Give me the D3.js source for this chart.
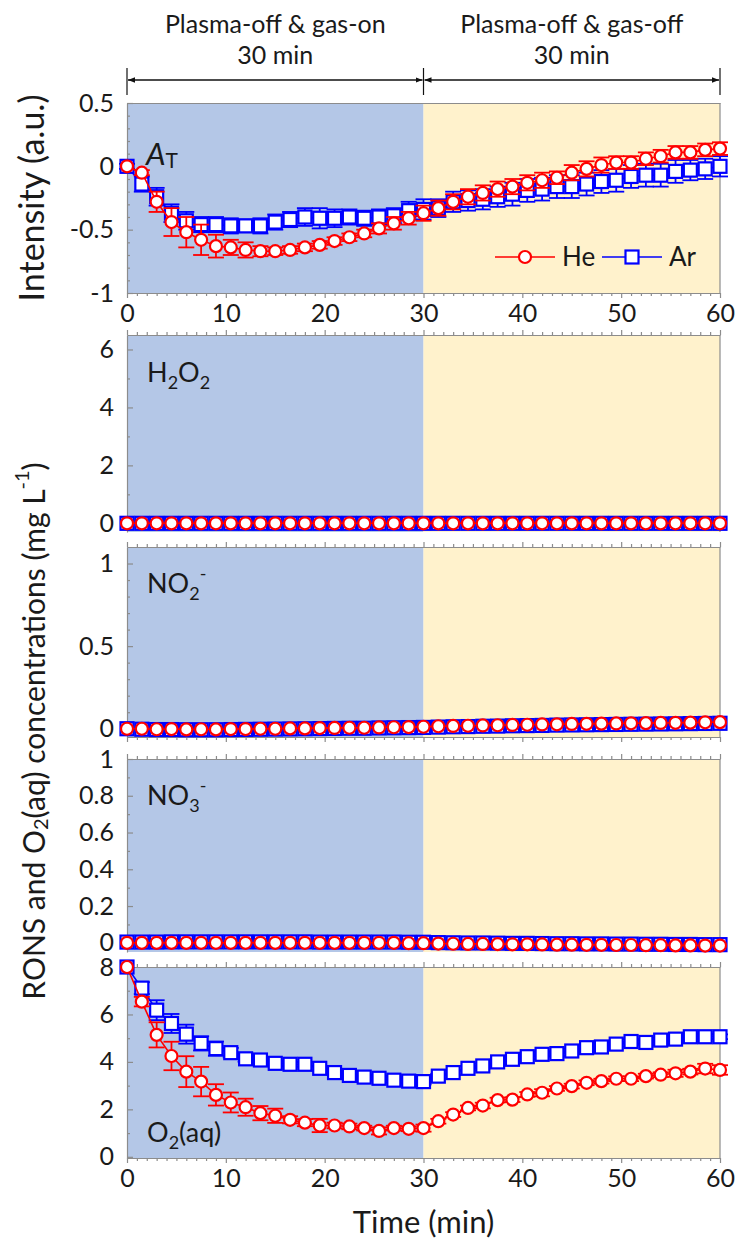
<!DOCTYPE html>
<html>
<head>
<meta charset="utf-8">
<script src="https://cdn.jsdelivr.net/npm/d3@7"></script>
<style>
  body { margin: 0; background: #fff; }
  svg { display: block; }
  text { font-family: Lato, "Open Sans", sans-serif; fill: #1a1a1a; }
</style>
</head>
<body>
<svg id="chart" width="736" height="1241"></svg>
<script>
// Sampling times (min)
const time = [0, 1.5, 3, 4.5, 6, 7.5, 9, 10.5, 12, 13.5, 15, 16.5, 18, 19.5, 21, 22.5, 24, 25.5, 27, 28.5, 30,
  31.5, 33, 34.5, 36, 37.5, 39, 40.5, 42, 43.5, 45, 46.5, 48, 49.5, 51, 52.5, 54, 55.5, 57, 58.5, 60];

// Total absorbance A_T (a.u.)
const atHe = [0, -0.05, -0.28, -0.44, -0.52, -0.58, -0.63, -0.64, -0.66, -0.67, -0.67, -0.66, -0.64, -0.62, -0.59, -0.56, -0.53, -0.49, -0.45, -0.41, -0.37,
  -0.33, -0.28, -0.24, -0.21, -0.18, -0.16, -0.13, -0.11, -0.09, -0.05, -0.02, 0.01, 0.03, 0.03, 0.06, 0.08, 0.11, 0.11, 0.13, 0.14];
const atHeErr = [0, 0.02, 0.08, 0.11, 0.12, 0.12, 0.09, 0.06, 0.06, 0.04, 0.03, 0.03, 0.03, 0.03, 0.03, 0.03, 0.03, 0.04, 0.05, 0.05, 0.06,
  0.06, 0.06, 0.06, 0.06, 0.06, 0.06, 0.06, 0.06, 0.05, 0.06, 0.06, 0.06, 0.05, 0.05, 0.05, 0.05, 0.05, 0.05, 0.05, 0.05];
const atAr = [0, -0.14, -0.24, -0.37, -0.43, -0.46, -0.46, -0.47, -0.47, -0.47, -0.44, -0.42, -0.40, -0.41, -0.41, -0.40, -0.41, -0.40, -0.39, -0.35, -0.34,
  -0.33, -0.28, -0.27, -0.26, -0.24, -0.22, -0.19, -0.18, -0.16, -0.16, -0.14, -0.12, -0.11, -0.08, -0.07, -0.07, -0.04, -0.03, -0.02, 0.00];
const atArErr = [0.02, 0.06, 0.07, 0.07, 0.07, 0.06, 0.06, 0.06, 0.05, 0.06, 0.06, 0.06, 0.07, 0.08, 0.07, 0.06, 0.06, 0.06, 0.06, 0.07, 0.08,
  0.07, 0.08, 0.08, 0.08, 0.08, 0.09, 0.09, 0.09, 0.09, 0.09, 0.09, 0.09, 0.09, 0.09, 0.09, 0.09, 0.09, 0.08, 0.08, 0.08];

// H2O2 (mg/L)
const h2o2He = [0, 0, 0, 0, 0, 0, 0, 0, 0, 0, 0, 0, 0, 0, 0, 0, 0, 0, 0, 0, 0,
  0, 0, 0, 0, 0, 0, 0, 0, 0, 0, 0, 0, 0, 0, 0, 0, 0, 0, 0, 0];
const h2o2Ar = [0, 0, 0, 0, 0, 0, 0, 0, 0, 0, 0, 0, 0, 0, 0, 0, 0, 0, 0, 0, 0,
  0, 0, 0, 0, 0, 0, 0, 0, 0, 0, 0, 0, 0, 0, 0, 0, 0, 0, 0, 0];

// NO2- (mg/L)
const no2He = [0.000, 0.000, -0.003, -0.002, -0.004, -0.003, -0.004, -0.002, -0.002, 0.000, 0.000, 0.002, 0.002, 0.004, 0.005, 0.006, 0.006, 0.008, 0.009, 0.010, 0.012,
  0.015, 0.017, 0.018, 0.020, 0.021, 0.023, 0.024, 0.026, 0.027, 0.029, 0.030, 0.031, 0.032, 0.033, 0.034, 0.035, 0.036, 0.037, 0.039, 0.040];
const no2Ar = [0.000, -0.003, -0.005, -0.005, -0.006, -0.006, -0.006, -0.005, -0.004, -0.003, -0.002, -0.001, 0.000, 0.001, 0.002, 0.003, 0.003, 0.005, 0.006, 0.007, 0.008,
  0.010, 0.012, 0.013, 0.015, 0.016, 0.018, 0.019, 0.020, 0.022, 0.023, 0.024, 0.025, 0.026, 0.027, 0.028, 0.029, 0.030, 0.031, 0.032, 0.033];

// NO3- (mg/L)
const no3He = [0.000, 0.000, 0.000, 0.000, 0.000, 0.000, 0.000, 0.000, 0.000, 0.000, 0.000, 0.000, 0.000, 0.000, 0.000, 0.000, 0.000, 0.000, 0.000, -0.002, -0.002,
  -0.004, -0.005, -0.006, -0.006, -0.007, -0.008, -0.008, -0.009, -0.010, -0.010, -0.011, -0.011, -0.012, -0.012, -0.013, -0.013, -0.014, -0.014, -0.015, -0.015];
const no3Ar = [0.004, 0.004, 0.004, 0.005, 0.005, 0.005, 0.005, 0.005, 0.005, 0.005, 0.005, 0.005, 0.005, 0.004, 0.004, 0.004, 0.004, 0.004, 0.004, 0.003, 0.003,
  0.001, 0.000, -0.001, -0.001, -0.002, -0.003, -0.003, -0.004, -0.005, -0.005, -0.006, -0.006, -0.007, -0.007, -0.008, -0.008, -0.009, -0.009, -0.010, -0.010];

// Dissolved O2 (mg/L)
const o2He = [8, 6.54, 5.14, 4.25, 3.59, 3.17, 2.61, 2.29, 2.09, 1.84, 1.73, 1.56, 1.44, 1.32, 1.32, 1.28, 1.21, 1.09, 1.21, 1.18, 1.21,
  1.50, 1.78, 2.06, 2.16, 2.39, 2.41, 2.63, 2.70, 2.88, 2.98, 3.12, 3.19, 3.29, 3.29, 3.40, 3.46, 3.52, 3.59, 3.72, 3.66];
const o2HeErr = [0, 0.2, 0.53, 0.6, 0.65, 0.62, 0.45, 0.42, 0.36, 0.3, 0.3, 0.15, 0.15, 0.28, 0.12, 0.12, 0.1, 0.15, 0.1, 0.1, 0.15,
  0.1, 0.1, 0.1, 0.12, 0.1, 0.1, 0.1, 0.15, 0.1, 0.1, 0.1, 0.1, 0.1, 0.1, 0.1, 0.1, 0.15, 0.12, 0.2, 0.2];
const o2Ar = [8, 7.11, 6.18, 5.62, 5.17, 4.78, 4.56, 4.39, 4.13, 4.08, 3.94, 3.90, 3.90, 3.73, 3.55, 3.43, 3.36, 3.31, 3.23, 3.19, 3.17,
  3.40, 3.55, 3.73, 3.83, 4.00, 4.11, 4.22, 4.32, 4.35, 4.46, 4.60, 4.63, 4.75, 4.86, 4.82, 4.92, 4.96, 5.06, 5.06, 5.06];
const o2ArErr = [0, 0.25, 0.42, 0.4, 0.4, 0.3, 0.3, 0.2, 0.12, 0.1, 0.1, 0.1, 0.1, 0.1, 0.1, 0.1, 0.1, 0.1, 0.1, 0.1, 0.12,
  0.1, 0.1, 0.1, 0.1, 0.1, 0.1, 0.1, 0.1, 0.1, 0.1, 0.1, 0.1, 0.1, 0.1, 0.1, 0.1, 0.1, 0.1, 0.1, 0.1];

// Axis ticks
const xTicks = [0, 10, 20, 30, 40, 50, 60];
const atTicks = [-1, -0.5, 0, 0.5];
const h2o2Ticks = [0, 2, 4, 6];
const no2Ticks = [0, 0.5, 1];
const no3Ticks = [0, 0.2, 0.4, 0.6, 0.8, 1];
const o2Ticks = [0, 2, 4, 6, 8];

// Phases and series names
const phases = [
  { from: 0, to: 30, title: "Plasma-off & gas-on", sub: "30 min" },
  { from: 30, to: 60, title: "Plasma-off & gas-off", sub: "30 min" }
];
const seriesNames = ["He", "Ar"];

// ---------- layout & style ----------
const svg = d3.select("#chart");
const X0 = 127, X1 = 720;
const AXIS = "#8c8c8c";
const RED = "#ff0000", BLUE = "#0000ff";
const phaseFill = ["#b4c7e7", "#fff2cc"];
const TICK_FONT = 25;

const x = d3.scaleLinear().domain([0, 60]).range([X0, X1]);
const minorX = d3.range(0, 61, 1);

const panels = [
  { top: 103, bottom: 293, domain: [-1, 0.5], ticks: atTicks, minor: d3.range(-10, 6).map(d => d / 10),
    he: atHe, ar: atAr, heErr: atHeErr, arErr: atArErr, topTicks: false, bottomAxis: "labels" },
  { top: 335, bottom: 532, domain: [-0.3, 6.5], ticks: h2o2Ticks, minor: d3.range(0, 7),
    he: h2o2He, ar: h2o2Ar, topTicks: true, bottomAxis: "none" },
  { top: 547, bottom: 737, domain: [-0.05, 1.1], ticks: no2Ticks, minor: d3.range(0, 11).map(d => d / 10),
    he: no2He, ar: no2Ar, topTicks: true, bottomAxis: "ticks" },
  { top: 759, bottom: 952, domain: [-0.05, 1], ticks: no3Ticks, minor: d3.range(0, 11).map(d => d / 10),
    he: no3He, ar: no3Ar, topTicks: true, bottomAxis: "none" },
  { top: 967, bottom: 1158, domain: [-0.05, 8], ticks: o2Ticks, minor: d3.range(0, 9),
    he: o2He, ar: o2Ar, heErr: o2HeErr, arErr: o2ArErr, topTicks: true, bottomAxis: "labels" }
];

const fmt = d => String(d);

function styleAxis(g) {
  g.select(".domain").attr("stroke", AXIS).attr("stroke-width", 1.2);
  g.selectAll(".tick line").attr("stroke", AXIS).attr("stroke-width", 1.2);
  g.selectAll(".tick text").attr("fill", "#1a1a1a")
    .style("font-family", "Lato, 'Open Sans', sans-serif").style("font-size", TICK_FONT + "px");
}

function drawSeries(g, y, vals, errs, color, shape) {
  const pts = time.map((t, i) => ({ t, v: vals[i], e: errs ? errs[i] : 0 }));
  g.append("path")
    .datum(pts)
    .attr("fill", "none").attr("stroke", color).attr("stroke-width", 1.6)
    .attr("d", d3.line().x(d => x(d.t)).y(d => y(d.v)));
  if (errs) {
    const eb = g.append("g").attr("stroke", color).attr("stroke-width", 1.8);
    pts.filter(d => d.e > 0).forEach(d => {
      const cx = x(d.t), y1 = y(d.v - d.e), y2 = y(d.v + d.e);
      eb.append("line").attr("x1", cx).attr("x2", cx).attr("y1", y1).attr("y2", y2);
      eb.append("line").attr("x1", cx - 8).attr("x2", cx + 8).attr("y1", y1).attr("y2", y1);
      eb.append("line").attr("x1", cx - 8).attr("x2", cx + 8).attr("y1", y2).attr("y2", y2);
    });
  }
  drawMarkers(g, pts.map(d => [x(d.t), y(d.v)]), color, shape);
}

function drawMarkers(g, xy, color, shape) {
  if (shape === "circle") {
    g.selectAll(null).data(xy).join("circle")
      .attr("cx", d => d[0]).attr("cy", d => d[1]).attr("r", 6)
      .attr("fill", "#fff").attr("stroke", color).attr("stroke-width", 2.2);
  } else {
    const s = 13;
    g.selectAll(null).data(xy).join("rect")
      .attr("x", d => d[0] - s / 2).attr("y", d => d[1] - s / 2)
      .attr("width", s).attr("height", s)
      .attr("fill", "#fff").attr("stroke", color).attr("stroke-width", 2.2);
  }
}

panels.forEach((p, idx) => {
  const y = d3.scaleLinear().domain(p.domain).range([p.bottom, p.top]);
  const g = svg.append("g");

  // phase backgrounds
  phases.forEach((ph, i) => {
    g.append("rect")
      .attr("x", x(ph.from)).attr("y", p.top)
      .attr("width", x(ph.to) - x(ph.from)).attr("height", p.bottom - p.top)
      .attr("fill", phaseFill[i]);
  });

  // right border
  g.append("line").attr("x1", X1).attr("x2", X1).attr("y1", p.top).attr("y2", p.bottom)
    .attr("stroke", AXIS).attr("stroke-width", 1.2);

  // top axis (outward ticks)
  const topAx = g.append("g").attr("transform", `translate(0,${p.top})`)
    .call(d3.axisTop(x).tickValues(xTicks).tickFormat("").tickSizeInner(p.topTicks ? 5 : 0).tickSizeOuter(0));
  styleAxis(topAx);
  if (p.topTicks) {
    const tm = g.append("g").attr("transform", `translate(0,${p.top})`)
      .call(d3.axisTop(x).tickValues(minorX.filter(v => v % 10 !== 0)).tickFormat("").tickSizeInner(3).tickSizeOuter(0));
    styleAxis(tm); tm.select(".domain").remove();
  }

  // bottom axis
  if (p.bottomAxis !== "none") {
    const bx = g.append("g").attr("transform", `translate(0,${p.bottom})`)
      .call(d3.axisBottom(x).tickValues(xTicks).tickFormat(p.bottomAxis === "labels" ? fmt : "")
        .tickSizeInner(5).tickSizeOuter(0).tickPadding(6));
    styleAxis(bx);
    const bm = g.append("g").attr("transform", `translate(0,${p.bottom})`)
      .call(d3.axisBottom(x).tickValues(minorX.filter(v => v % 10 !== 0)).tickFormat("").tickSizeInner(3).tickSizeOuter(0));
    styleAxis(bm); bm.select(".domain").remove();
  }

  // left axis (inward ticks)
  const ly = g.append("g").attr("transform", `translate(${X0},0)`)
    .call(d3.axisLeft(y).tickValues(p.ticks).tickFormat(fmt).tickSizeInner(-6).tickSizeOuter(0).tickPadding(13));
  styleAxis(ly);
  const lm = g.append("g").attr("transform", `translate(${X0},0)`)
    .call(d3.axisLeft(y).tickValues(p.minor.filter(v => !p.ticks.some(t => Math.abs(t - v) < 1e-9))).tickFormat("").tickSizeInner(-3).tickSizeOuter(0));
  styleAxis(lm); lm.select(".domain").remove();

  // series: Ar beneath He
  drawSeries(g, y, p.ar, p.arErr, BLUE, "square");
  drawSeries(g, y, p.he, p.heErr, RED, "circle");
});

// ---------- panel labels ----------
function label(px, py, parts, size) {
  const t = svg.append("text").attr("x", px).attr("y", py).style("font-size", size + "px");
  parts.forEach(pt => {
    const s = t.append("tspan").text(pt.text);
    if (pt.italic) s.style("font-style", "italic");
    if (pt.size) s.style("font-size", pt.size + "px");
    if (pt.dy) s.attr("dy", pt.dy);
  });
  return t;
}
label(146, 165, [{ text: "A", italic: true }, { text: "T", size: 21, dy: 3 }], 31);
label(147, 382, [{ text: "H" }, { text: "2", size: 18, dy: 7 }, { text: "O", dy: -7 }, { text: "2", size: 18, dy: 7 }], 27);
label(147, 593, [{ text: "NO" }, { text: "2", size: 18, dy: 7 }, { text: "-", size: 18, dy: -20 }], 27);
label(147, 805, [{ text: "NO" }, { text: "3", size: 18, dy: 7 }, { text: "-", size: 18, dy: -20 }], 27);
label(147, 1142, [{ text: "O" }, { text: "2", size: 18, dy: 7 }, { text: "(aq)", dy: -7 }], 27);

// ---------- legend ----------
const lg = svg.append("g");
[{ name: seriesNames[0], color: RED, shape: "circle", x0: 495 },
 { name: seriesNames[1], color: BLUE, shape: "square", x0: 602 }].forEach(it => {
  const ly = 257;
  lg.append("line").attr("x1", it.x0).attr("x2", it.x0 + 60).attr("y1", ly).attr("y2", ly)
    .attr("stroke", it.color).attr("stroke-width", 1.6);
  drawMarkers(lg, [[it.x0 + 30, ly]], it.color, it.shape);
  lg.append("text").attr("x", it.x0 + 67).attr("y", ly + 9).style("font-size", "26px").text(it.name);
});

// ---------- phase header with arrows ----------
const defs = svg.append("defs");
defs.append("marker").attr("id", "arrowHead").attr("viewBox", "0 0 10 10")
  .attr("refX", 10).attr("refY", 5).attr("markerWidth", 7).attr("markerHeight", 7)
  .attr("markerUnits", "userSpaceOnUse").attr("orient", "auto-start-reverse")
  .append("path").attr("d", "M0,1 L10,5 L0,9 Z").attr("fill", "#111");

const AY = 80;
phases.forEach(ph => {
  svg.append("line").attr("x1", x(ph.from) + 1).attr("x2", x(ph.to) - 1).attr("y1", AY).attr("y2", AY)
    .attr("stroke", "#111").attr("stroke-width", 1.4)
    .attr("marker-start", "url(#arrowHead)").attr("marker-end", "url(#arrowHead)");
  const cx = (x(ph.from) + x(ph.to)) / 2;
  svg.append("text").attr("x", cx).attr("y", 33).attr("text-anchor", "middle").style("font-size", "25px").text(ph.title);
  svg.append("text").attr("x", cx).attr("y", 64).attr("text-anchor", "middle").style("font-size", "25px").text(ph.sub);
});
[0, 30, 60].forEach(t => {
  svg.append("line").attr("x1", x(t)).attr("x2", x(t)).attr("y1", 68).attr("y2", 95)
    .attr("stroke", "#111").attr("stroke-width", 1.2);
});

// ---------- axis titles ----------
svg.append("text").attr("transform", "translate(30,198) rotate(-90)")
  .attr("text-anchor", "middle").attr("dominant-baseline", "central")
  .style("font-size", "34px").text("Intensity (a.u.)");

const yt = svg.append("text").attr("transform", "translate(33,731) rotate(-90)")
  .attr("text-anchor", "middle").attr("dominant-baseline", "central").style("font-size", "30px");
yt.append("tspan").text("RONS and O");
yt.append("tspan").attr("dy", 7).style("font-size", "20px").text("2");
yt.append("tspan").attr("dy", -7).text("(aq) concentrations (mg L");
yt.append("tspan").attr("dy", -12).style("font-size", "20px").text("-1");
yt.append("tspan").attr("dy", 12).text(")");

svg.append("text").attr("x", x(30)).attr("y", 1233).attr("text-anchor", "middle")
  .style("font-size", "31px").text("Time (min)");
</script>
</body>
</html>
